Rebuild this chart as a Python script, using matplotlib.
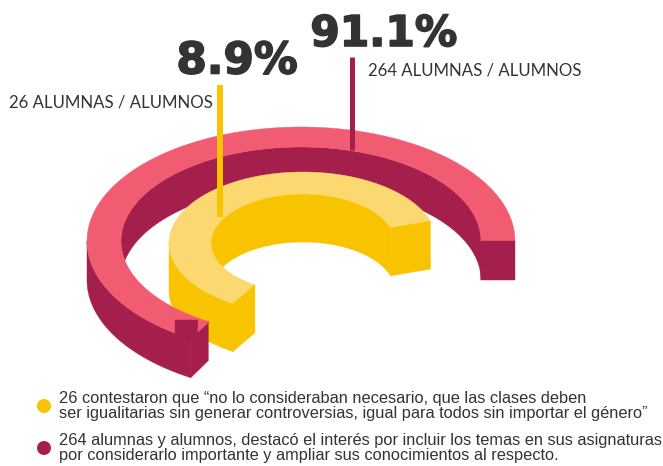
import numpy as np
import matplotlib
matplotlib.use('Agg')
import matplotlib.pyplot as plt
import matplotlib.patheffects as pe
from matplotlib.patches import Polygon, Circle, Rectangle

# data
categories = ['no necesario', 'incluir temas']
percents = [8.9, 91.1]
counts = [26, 264]
legend_text = [
    '%d contestaron que “no lo consideraban necesario, que las clases deben\nser igualitarias sin generar controversias, igual para todos sin importar el género”' % counts[0],
    '%d alumnas y alumnos, destacó el interés por incluir los temas en sus asignaturas\npor considerarlo importante y ampliar sus conocimientos al respecto.' % counts[1],
]

PINK = '#F25C72'
WINE = '#A51F4D'
YELLOW = '#F8C400'
LIGHT = '#FBD970'
TEXT = '#333333'


def arc(cx, cy, a, b, t0, t1, dy=0):
    t = np.radians(np.linspace(t0, t1, 200))
    return np.column_stack([cx + a * np.cos(t), cy - b * np.sin(t) + dy])


def band(ax, first, second, color, z):
    ax.add_patch(Polygon(np.vstack([first, second[::-1]]), closed=True, fc=color, ec=color, lw=0.3, zorder=z))


fig = plt.figure(figsize=(6.63, 4.66), dpi=100)
ax = fig.add_axes([0, 0, 1, 1])
ax.set_xlim(0, 663)
ax.set_ylim(466, 0)
ax.axis('off')

# outer ring (wine/pink)
cx, cy = 301, 241
oa, ob, ia, ib = 214, 114, 180, 94
depth = 39
t0, t1 = 0, 239

band(ax, arc(cx, cy, ia, ib, t0, 190), arc(cx, cy, ia, ib, t0, 190, depth), WINE, 2)
band(ax, arc(cx, cy, oa, ob, 180, t1), arc(cx, cy, oa, ob, 180, t1, depth), WINE, 5)
band(ax, arc(cx, cy, oa, ob, t0, t1), arc(cx, cy, ia, ib, t0, t1), PINK, 6)
# flat end on the right
ax.add_patch(Rectangle((cx + ia, cy), oa - ia, depth, fc=WINE, ec=WINE, lw=0.3, zorder=6))
# end cap lower left
end_o = arc(cx, cy, oa, ob, t1, t1, 0)[0]
end_i = arc(cx, cy, ia, ib, t1, t1, 0)[0]
ax.add_patch(Polygon([end_i, end_o, end_o + [0, depth], end_i + [0, depth]], closed=True, fc=WINE, ec=WINE, lw=0.3, zorder=7))
# odd notch in the original artwork
ax.add_patch(Polygon([(175, 320), (198, 320), (198, 332), (190, 340), (175, 336)], closed=True, fc=WINE, ec=WINE, lw=0.3, zorder=7))
ax.add_patch(Polygon([(198, 332), (208, 323), (198, 320)], closed=True, fc=PINK, ec=PINK, lw=0.3, zorder=8))

# inner ring (yellow)
cx2, cy2 = 303, 243
oa2, ob2, ia2, ib2 = 134, 71, 92, 49
depth2 = 48
y0, y1 = 18, 238.5
band(ax, arc(cx2, cy2, ia2, ib2, y0, 200), arc(cx2, cy2, ia2, ib2, y0, 200, depth2), YELLOW, 3)
band(ax, arc(cx2, cy2, oa2, ob2, 180, y1), arc(cx2, cy2, oa2, ob2, 180, y1, depth2), YELLOW, 3)
band(ax, arc(cx2, cy2, oa2, ob2, y0, y1), arc(cx2, cy2, ia2, ib2, y0, y1), LIGHT, 4)
for t in (y0, y1):
    p_o = arc(cx2, cy2, oa2, ob2, t, t)[0]
    p_i = arc(cx2, cy2, ia2, ib2, t, t)[0]
    ax.add_patch(Polygon([p_i, p_o, p_o + [0, depth2], p_i + [0, depth2]], closed=True, fc=YELLOW, ec=YELLOW, lw=0.3, zorder=4))

# leader lines
ax.plot([220, 220], [85, 217], color=YELLOW, lw=4.3, solid_capstyle='butt', zorder=9)
ax.plot([352, 352], [57, 150], color=WINE, lw=3.6, solid_capstyle='butt', zorder=9)

# big numbers, stroke makes them heavier like the original
fat = [pe.withStroke(linewidth=1.2, foreground=TEXT)]
ax.text(237, 61, '%.1f%%' % percents[0], fontsize=31.5, family='DejaVu Sans', weight='bold', color=TEXT, ha='center', va='center', path_effects=fat)
ax.text(384, 34, '%.1f%%' % percents[1], fontsize=30.5, family='DejaVu Sans', weight='bold', color=TEXT, ha='center', va='center', path_effects=fat)
ax.text(9, 102, '%d ALUMNAS / ALUMNOS' % counts[0], fontsize=12.1, family='Lato', color=TEXT, va='center')
ax.text(368, 71, '%d ALUMNAS / ALUMNOS' % counts[1], fontsize=12.1, family='Lato', color=TEXT, va='center')

# legend
ax.add_patch(Circle((44, 406), 7, fc=YELLOW, ec='none'))
ax.add_patch(Circle((44, 448), 7, fc=WINE, ec='none'))
ax.text(59, 406, legend_text[0], fontsize=11.75, family='Liberation Sans', color=TEXT, va='center', linespacing=1.02)
ax.text(59, 448, legend_text[1], fontsize=11.75, family='Liberation Sans', color=TEXT, va='center', linespacing=1.02)

fig.savefig('out.png', dpi=100)
